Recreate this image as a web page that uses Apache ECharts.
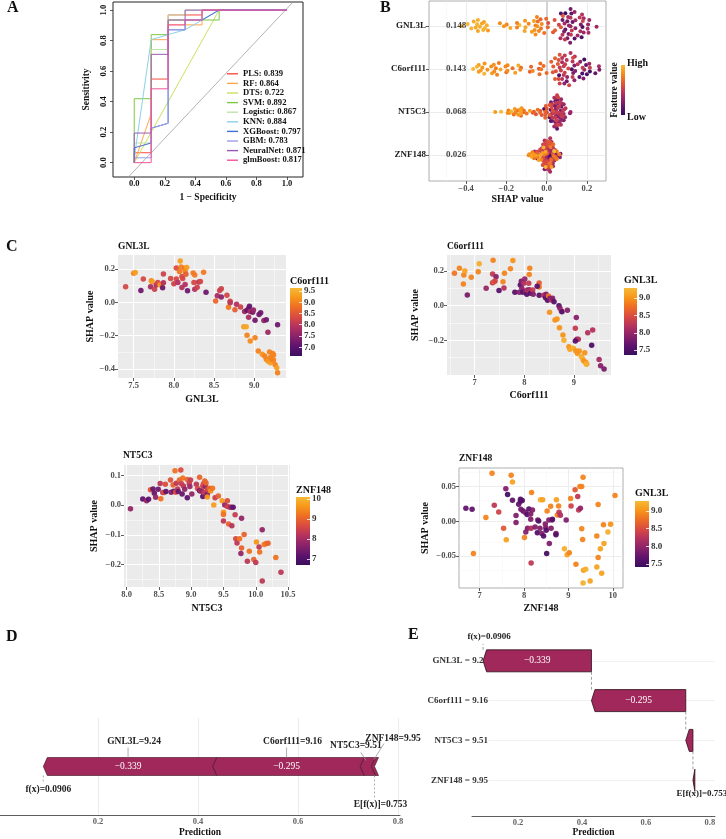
<!DOCTYPE html>
<html>
<head>
<meta charset="utf-8">
<script src="https://cdn.jsdelivr.net/npm/echarts@6/dist/echarts.min.js"></script>
<style>
html, body {margin: 0; padding: 0; background: #fff;}
#main {width: 726px; height: 839px;}
</style>
</head>
<body>
<div id="main"></div>
<script>
// ---- A: ROC curves ----
const rocModels = ['PLS', 'RF', 'DTS', 'SVM', 'Logistic', 'KNN', 'XGBoost', 'GBM', 'NeuralNet', 'glmBoost'];
const rocAuc = [0.839, 0.864, 0.722, 0.892, 0.867, 0.884, 0.797, 0.783, 0.871, 0.817];
const rocCurves = [
    [[0,0],[0,0.065],[0.111,0.065],[0.111,0.548],[0.222,0.548],[0.222,0.968],[0.444,0.968],[0.444,1],[1,1]],
    [[0,0],[0.111,0.32],[0.111,0.806],[0.222,0.806],[0.222,0.903],[0.444,0.903],[0.444,1],[1,1]],
    [[0,0],[0.556,1],[1,1]],
    [[0,0],[0,0.419],[0.111,0.419],[0.111,0.839],[0.222,0.839],[0.222,0.935],[0.556,0.935],[0.556,1],[1,1]],
    [[0,0],[0,0.129],[0.111,0.129],[0.111,0.742],[0.222,0.742],[0.222,0.968],[0.333,0.968],[0.333,1],[1,1]],
    [[0,0],[0.01,0.1],[0.111,0.806],[0.222,0.839],[0.333,0.871],[0.556,1],[1,1]],
    [[0,0],[0,0.097],[0.111,0.129],[0.111,0.226],[0.222,0.258],[0.222,0.871],[0.333,0.871],[0.333,0.935],[0.444,0.935],[0.556,1],[1,1]],
    [[0,0],[0,0.032],[0.111,0.032],[0.111,0.226],[0.222,0.258],[0.222,0.871],[0.333,0.871],[0.333,0.935],[0.444,0.935],[0.444,1],[1,1]],
    [[0,0],[0,0.194],[0.111,0.194],[0.111,0.71],[0.222,0.71],[0.222,0.935],[0.333,0.935],[0.333,1],[1,1]],
    [[0,0],[0.111,0],[0.111,0.484],[0.222,0.484],[0.222,0.903],[0.333,0.903],[0.333,0.935],[0.444,0.935],[0.444,1],[1,1]]
];
const rocColors = ['#FF4B3E', '#FFA64D', '#CFE05C', '#7CC843', '#BDE2A6', '#8BD2E8', '#3E6FD2', '#9C9DE8', '#9A58B4', '#F2529C'];

// ---- B: mean |SHAP| ----
const bFeatures = ['GNL3L', 'C6orf111', 'NT5C3', 'ZNF148'];
const bMeanAbs = [0.148, 0.143, 0.068, 0.026];

// ---- C: dependence plots, [feature value, SHAP value, colour feature value] ----
const gnl3lDep = [[7.40,0.093,8.3],[7.50,0.174,9.0],[7.52,0.178,9.3],[7.59,0.071,7.2],[7.62,0.139,8.3],[7.72,0.129,9.0],[7.73,0.123,9.3],[7.71,0.093,7.8],[7.76,0.079,8.2],[7.78,0.103,7.9],[7.80,0.119,8.3],[7.83,0.103,9.4],[7.85,0.109,9.0],[7.87,0.170,8.2],[7.86,0.087,7.2],[7.87,0.117,7.9],[7.96,0.143,8.3],[8.00,0.111,8.2],[8.03,0.206,8.4],[8.03,0.139,8.3],[8.05,0.119,7.9],[8.07,0.184,8.9],[8.08,0.248,9.3],[8.09,0.212,9.0],[8.10,0.154,8.4],[8.10,0.089,7.9],[8.11,0.143,8.3],[8.13,0.204,8.9],[8.14,0.184,9.0],[8.16,0.208,9.3],[8.15,0.168,8.6],[8.14,0.107,7.9],[8.17,0.069,7.2],[8.24,0.176,8.9],[8.26,0.164,8.9],[8.25,0.119,8.3],[8.26,0.079,7.9],[8.29,0.091,8.2],[8.31,0.121,7.9],[8.33,0.125,8.3],[8.37,0.180,8.9],[8.40,0.061,7.2],[8.52,0.008,8.7],[8.54,0.040,7.8],[8.57,0.071,8.2],[8.59,0.081,8.2],[8.59,0.032,7.5],[8.66,0.042,8.3],[8.68,-0.030,8.9],[8.70,0.006,8.3],[8.70,-0.002,8.0],[8.76,-0.044,8.6],[8.78,-0.012,7.9],[8.83,-0.028,8.2],[8.88,-0.055,7.7],[8.91,-0.048,7.1],[8.93,-0.038,7.2],[8.94,-0.024,7.1],[8.95,-0.055,7.8],[8.98,-0.059,7.3],[8.99,-0.046,7.6],[9.01,-0.107,7.2],[8.93,-0.089,7.8],[9.06,-0.073,7.2],[9.08,-0.063,7.2],[9.12,-0.109,7.6],[9.15,-0.105,7.2],[9.17,-0.180,7.7],[9.29,-0.135,7.2],[8.87,-0.147,9.3],[8.90,-0.147,9.4],[8.91,-0.198,9.0],[8.95,-0.232,9.1],[9.01,-0.212,9.0],[9.05,-0.291,9.0],[9.10,-0.311,9.2],[9.13,-0.321,9.0],[9.15,-0.341,9.0],[9.17,-0.352,9.2],[9.19,-0.297,9.0],[9.20,-0.331,9.0],[9.20,-0.362,9.3],[9.23,-0.307,9.0],[9.24,-0.315,9.0],[9.24,-0.345,9.0],[9.26,-0.374,9.0],[9.28,-0.392,9.3],[9.29,-0.422,9.0],[9.22,-0.341,9.0]];
const c6orf111Dep = [[6.59,0.187,8.8],[6.69,0.215,8.9],[6.77,0.125,8.9],[6.78,0.177,8.9],[6.80,0.200,9.1],[6.85,0.062,7.8],[6.93,0.163,8.9],[7.07,0.196,8.9],[7.09,0.242,9.2],[7.23,0.100,8.0],[7.36,0.183,8.3],[7.37,0.262,8.9],[7.36,0.132,8.3],[7.39,0.138,8.7],[7.43,0.167,7.9],[7.41,0.142,8.4],[7.49,0.088,7.6],[7.57,0.138,8.9],[7.59,0.102,8.2],[7.60,0.187,8.9],[7.72,0.212,8.9],[7.77,0.260,9.0],[7.81,0.077,7.6],[7.90,0.077,7.9],[7.92,0.119,7.6],[7.94,0.140,7.8],[7.95,0.100,7.9],[7.97,0.077,7.6],[7.99,0.129,8.2],[8.01,0.154,8.0],[8.03,0.085,7.9],[8.05,0.065,7.6],[8.06,0.090,8.2],[8.09,0.129,8.3],[8.10,0.179,8.9],[8.11,0.215,8.9],[8.10,0.092,7.9],[8.11,0.085,8.2],[8.13,0.071,7.6],[8.17,0.090,8.3],[8.18,0.065,7.9],[8.30,0.131,8.6],[8.30,0.108,8.8],[8.26,0.112,7.6],[8.30,0.060,7.6],[8.39,0.060,8.2],[8.43,0.046,7.6],[8.44,0.065,7.9],[8.47,0.031,7.6],[8.49,0.056,8.8],[8.52,0.042,7.9],[8.55,0.033,8.2],[8.51,-0.038,9.0],[8.57,0.042,7.9],[8.60,0.023,7.6],[8.62,-0.083,9.0],[8.66,-0.077,9.0],[8.70,0.000,7.6],[8.72,-0.015,7.9],[8.71,-0.127,9.0],[8.75,-0.031,8.2],[8.76,-0.035,7.6],[8.78,-0.169,9.0],[8.80,-0.200,9.2],[8.87,-0.027,7.9],[8.90,-0.237,9.0],[8.92,-0.252,9.1],[8.99,-0.246,9.2],[9.05,-0.069,7.9],[9.03,-0.131,8.3],[9.06,-0.194,8.0],[9.09,-0.194,8.2],[9.03,-0.204,7.6],[9.04,-0.260,9.0],[9.07,-0.275,9.0],[9.11,-0.262,9.0],[9.15,-0.294,9.2],[9.18,-0.308,9.2],[9.20,-0.319,9.0],[9.24,-0.327,9.0],[9.26,-0.337,9.0],[9.25,-0.337,9.2],[9.22,-0.271,9.0],[9.28,-0.156,8.2],[9.38,-0.140,8.2],[9.36,-0.229,7.5],[9.51,-0.310,8.1],[9.54,-0.346,7.9],[9.61,-0.365,7.8]];
const nt5c3Dep = [[8.06,-0.012,7.8],[8.25,0.021,7.2],[8.31,0.015,7.8],[8.34,0.020,7.2],[8.37,0.052,8.8],[8.41,0.055,7.3],[8.43,0.040,7.3],[8.45,0.027,7.8],[8.49,0.054,7.4],[8.52,0.073,8.3],[8.53,0.022,9.2],[8.56,0.043,8.3],[8.58,0.043,8.7],[8.60,0.071,8.7],[8.61,0.046,7.2],[8.68,0.085,8.8],[8.69,0.044,7.6],[8.73,0.047,7.3],[8.72,0.068,9.0],[8.75,0.116,9.2],[8.76,0.044,8.7],[8.77,0.074,8.3],[8.79,0.055,8.3],[8.80,0.046,7.3],[8.82,0.085,9.0],[8.84,0.119,8.7],[8.85,0.072,8.4],[8.86,0.038,7.3],[8.87,0.092,9.2],[8.88,0.065,8.3],[8.90,0.054,7.8],[8.94,0.025,7.2],[8.94,0.087,9.0],[8.97,0.074,8.4],[8.98,0.063,7.9],[8.99,0.085,8.4],[9.01,0.038,7.8],[9.08,0.071,8.3],[9.10,0.056,8.6],[9.13,0.094,9.0],[9.13,0.049,7.3],[9.15,0.048,8.3],[9.16,0.048,7.8],[9.18,0.029,7.2],[9.18,0.065,8.4],[9.19,0.072,8.7],[9.20,0.043,8.3],[9.21,0.082,9.0],[9.22,0.063,7.8],[9.23,0.075,9.0],[9.25,0.038,7.5],[9.25,0.052,8.7],[9.25,0.028,9.6],[9.26,0.053,8.4],[9.28,0.057,9.0],[9.30,0.048,9.5],[9.33,0.057,9.2],[9.35,0.001,9.7],[9.37,0.025,8.4],[9.42,0.031,9.0],[9.48,0.015,9.7],[9.50,-0.024,9.6],[9.50,-0.031,9.2],[9.50,-0.053,8.3],[9.52,0.001,7.8],[9.56,0.015,8.7],[9.56,-0.004,8.4],[9.60,-0.007,8.4],[9.62,-0.007,7.8],[9.65,-0.007,7.2],[9.58,-0.063,9.0],[9.63,-0.069,8.2],[9.68,-0.032,8.4],[9.78,-0.044,7.8],[9.69,-0.113,8.6],[9.71,-0.127,8.3],[9.75,-0.113,9.2],[9.78,-0.144,9.0],[9.77,-0.163,7.8],[9.82,-0.099,9.0],[9.87,-0.189,8.3],[9.90,-0.155,9.2],[9.97,-0.183,9.0],[10.00,-0.193,8.3],[10.01,-0.124,9.6],[10.05,-0.141,8.3],[10.06,-0.158,9.2],[10.10,-0.083,7.8],[10.10,-0.255,8.3],[10.13,-0.132,9.3],[10.16,-0.129,9.2],[10.19,-0.128,9.0],[10.31,-0.176,9.2],[10.39,-0.226,8.3]];
const znf148Dep = [[6.69,0.0188,7.7],[6.83,0.0174,7.7],[6.86,-0.0464,8.9],[7.14,0.0053,8.9],[7.28,0.0691,8.9],[7.33,0.0232,8.3],[7.43,0.0135,8.4],[7.54,-0.0101,8.6],[7.59,0.0469,7.9],[7.60,-0.0266,9.1],[7.63,0.0386,7.5],[7.71,0.0662,8.9],[7.74,0.0565,9.1],[7.74,0.0304,7.7],[7.82,0.0082,7.9],[7.82,-0.0019,7.9],[7.88,0.0246,7.7],[7.92,0.0290,7.6],[7.92,0.0319,7.6],[7.96,0.0300,7.6],[7.98,0.0150,7.6],[7.93,0.0174,7.8],[8.01,-0.0232,8.9],[8.03,0.0126,7.9],[8.04,-0.0155,7.9],[8.07,0.0097,7.6],[8.08,-0.0101,7.9],[8.11,0.0179,7.6],[8.15,0.0029,7.9],[8.15,0.0106,7.9],[8.16,-0.0101,8.2],[8.16,-0.0599,8.3],[8.17,0.0415,8.9],[8.19,0.0164,7.9],[8.25,-0.0082,7.9],[8.30,-0.0164,7.6],[8.31,0.0019,7.9],[8.33,0.0005,7.6],[8.36,-0.0101,7.9],[8.37,0.0309,9.2],[8.42,0.0309,9.1],[8.40,-0.0174,7.9],[8.44,-0.0213,7.6],[8.48,-0.0039,7.9],[8.49,-0.0092,7.9],[8.50,-0.0130,7.6],[8.51,-0.0464,7.5],[8.52,0.0150,8.9],[8.56,0.0019,7.9],[8.57,-0.0319,7.9],[8.60,0.0217,8.9],[8.61,-0.0101,7.9],[8.63,0.0019,7.9],[8.64,0.0029,7.6],[8.72,-0.0174,7.9],[8.72,-0.0193,7.6],[8.73,0.0309,9.1],[8.75,0.0092,8.9],[8.78,0.0222,8.9],[8.79,0.0130,8.3],[8.82,0.0087,8.2],[8.91,-0.0396,9.2],[8.95,0.0019,7.9],[8.97,-0.0483,9.1],[9.02,-0.0454,8.9],[9.05,0.0329,8.9],[9.06,0.0222,8.4],[9.15,0.0454,8.6],[9.17,-0.0618,8.9],[9.21,0.0357,8.3],[9.23,0.0164,8.3],[9.27,0.0188,8.0],[9.26,0.0502,8.9],[9.30,0.0502,8.9],[9.30,-0.0106,8.9],[9.32,-0.0261,8.9],[9.33,0.0633,8.9],[9.34,-0.0705,9.1],[9.39,-0.0691,9.2],[9.33,-0.0889,9.2],[9.49,-0.0860,9.1],[9.64,-0.0213,8.9],[9.64,-0.0657,9.1],[9.67,0.0242,8.9],[9.67,-0.0522,8.9],[9.72,-0.0396,9.1],[9.75,-0.0749,9.1],[9.79,-0.0048,8.9],[9.80,-0.0319,9.1],[9.89,-0.0155,9.2],[9.95,-0.0043,9.0],[10.05,0.0372,8.9]];

// ---- D / E: one sample explained ----
const forceFeatures = ['GNL3L', 'C6orf111', 'NT5C3', 'ZNF148'];
const forceValues = ['9.24', '9.16', '9.51', '9.95'];
const forceShap = [-0.339, -0.295, -0.0224, -0.006];
const baseValue = 0.753;
const fxValue = 0.0906;

const FONT = 'Liberation Serif';
const PAL = ['#3B0F5E', '#5E136E', '#89226A', '#B3315F', '#D84A42', '#EE6C25', '#F7961A', '#F6BA36'];
const BAR = '#A1285A';

const grad = () => new echarts.graphic.LinearGradient(0, 1, 0, 0,
    PAL.map((c, i) => ({offset: i / (PAL.length - 1), color: c})));
const fmt = d => v => (v < -1e-9 ? '\u2212' : '') + Math.abs(v).toFixed(d);

function valAxis(o) {
    return {
        type: 'value', gridIndex: o.g, min: o.min, max: o.max, inverse: !!o.inverse,
        position: o.position, offset: o.offset || 0,
        name: o.name || '', nameLocation: 'middle', nameGap: o.gap || 15,
        nameTextStyle: {fontFamily: FONT, fontWeight: 'bold', fontSize: o.nfs || 10, color: '#111'},
        axisLine: {show: !!o.line, onZero: false, lineStyle: {color: '#333', width: 0.8}},
        axisTick: {show: o.tick !== false, length: 3, inside: !!o.tickInside, customValues: o.ticks,
            lineStyle: {color: o.tickColor || '#333', width: 0.8}},
        axisLabel: {show: o.label !== false, customValues: o.ticks, formatter: o.fmt, rotate: o.rotate || 0,
            margin: o.margin == null ? 3 : o.margin, fontFamily: FONT, fontWeight: 'bold',
            fontSize: o.fs || 8.5, color: o.color || '#4D4D4D'},
        splitLine: {show: false}
    };
}
const hidden = g => ({type: 'value', gridIndex: g, show: false, min: 0, max: 1, axisLine: {onZero: false}});

function gridLines(i, majX, minX, majY, minY, cMaj, cMin, wMaj, wMin) {
    const d = [];
    (minX || []).forEach(v => d.push({xAxis: v, lineStyle: {color: cMin, width: wMin, type: 'solid'}}));
    (minY || []).forEach(v => d.push({yAxis: v, lineStyle: {color: cMin, width: wMin, type: 'solid'}}));
    (majX || []).forEach(v => d.push({xAxis: v, lineStyle: {color: cMaj, width: wMaj, type: 'solid'}}));
    (majY || []).forEach(v => d.push({yAxis: v, lineStyle: {color: cMaj, width: wMaj, type: 'solid'}}));
    return {type: 'line', xAxisIndex: i, yAxisIndex: i, data: [], z: 1, silent: true,
        markLine: {silent: true, z: 1, symbol: ['none', 'none'], label: {show: false}, animation: false, data: d}};
}

// quasirandom (van der Corput) spread scaled by local density, like ggbeeswarm
function vdc(n) { let v = 0, d = 1; while (n > 0) { d *= 2; v += (n % 2) / d; n = Math.floor(n / 2); } return v; }
function quasiOffsets(vals, width) {
    const n = vals.length;
    const mean = vals.reduce((s, v) => s + v, 0) / n;
    const sd = Math.sqrt(vals.reduce((s, v) => s + (v - mean) ** 2, 0) / (n - 1));
    const bw = 0.55 * sd * Math.pow(n, -0.2);
    const dens = vals.map(v => vals.reduce((s, u) => s + Math.exp(-0.5 * ((v - u) / bw) ** 2), 0));
    const maxD = Math.max(...dens);
    const order = vals.map((v, i) => i).sort((p, q) => vals[p] - vals[q]);
    const off = [];
    order.forEach((idx, k) => { off[idx] = (vdc(k + 1) - 0.5) * 2 * width * dens[idx] / maxD; });
    return off;
}

const series = [];
// A
rocModels.forEach((m, i) => series.push({
    type: 'line', name: m + ': ' + rocAuc[i].toFixed(3), xAxisIndex: 0, yAxisIndex: 0,
    data: rocCurves[i], symbol: 'none', lineStyle: {width: 1, color: rocColors[i]},
    itemStyle: {color: rocColors[i]}, z: 3
}));
// chance line as drawn by the ROC plot
series.push({type: 'line', xAxisIndex: 0, yAxisIndex: 0, data: [[-0.2, -0.266], [1.2, 1.223]], symbol: 'none',
    lineStyle: {color: '#A0A0A0', width: 0.8}, clip: true, z: 2, silent: true});

// B
series.push(gridLines(1, [-0.4, -0.2, 0.2], [-0.5, -0.3, -0.1, 0.1], [0, 1, 2, 3], null, '#E6E6E6', '#F3F3F3', 0.8, 0.5));
series.push(gridLines(1, [0], null, null, null, '#CFCFCF', '#CFCFCF', 1.8, 1));
const beeData = [];
[gnl3lDep, c6orf111Dep, nt5c3Dep, znf148Dep].forEach((pts, r) => {
    const xs = pts.map(p => p[0]);
    const lo = Math.min(...xs), hi = Math.max(...xs);
    const off = quasiOffsets(pts.map(p => p[1]), 0.4);
    pts.forEach((p, i) => beeData.push([p[1], r + off[i], (p[0] - lo) / (hi - lo)]));
});
const beeIdx = series.length;
series.push({type: 'scatter', xAxisIndex: 1, yAxisIndex: 1, data: beeData, symbolSize: 4, z: 10,
    itemStyle: {opacity: 1}});
series.push({type: 'scatter', xAxisIndex: 1, yAxisIndex: 1, symbolSize: 0, z: 11,
    data: bMeanAbs.map((v, i) => [-0.5, i, v]),
    label: {show: true, position: 'right', distance: 0, formatter: p => p.value[2].toFixed(3),
        fontFamily: FONT, fontWeight: 'bold', fontSize: 9, color: '#111'}});

// C
const cPanels = [
    {g: 2, pts: gnl3lDep, majX: [7.5, 8, 8.5, 9], minX: [7.75, 8.25, 8.75, 9.25], majY: [-0.4, -0.2, 0, 0.2], minY: [-0.3, -0.1, 0.1], cmin: 6.61, cmax: 9.63, bw: false},
    {g: 3, pts: c6orf111Dep, majX: [7, 8, 9], minX: [6.5, 7.5, 8.5, 9.5], majY: [-0.2, 0, 0.2], minY: [-0.3, -0.1, 0.1], cmin: 7.36, cmax: 9.29, bw: false},
    {g: 4, pts: nt5c3Dep, majX: [8, 8.5, 9, 9.5, 10, 10.5], minX: [8.25, 8.75, 9.25, 9.75, 10.25], majY: [-0.2, -0.1, 0, 0.1], minY: [-0.25, -0.15, -0.05, 0.05], cmin: 6.7, cmax: 10.1, bw: false},
    {g: 5, pts: znf148Dep, majX: [7, 8, 9, 10], minX: [7.5, 8.5, 9.5], majY: [-0.05, 0, 0.05], minY: [-0.075, -0.025, 0.025, 0.075], cmin: 7.41, cmax: 9.28, bw: true}
];
const visualMaps = [{type: 'continuous', show: false, seriesIndex: beeIdx, dimension: 2, min: 0, max: 1, inRange: {color: PAL}}];
cPanels.forEach(c => {
    if (c.bw) series.push(gridLines(c.g, c.majX, c.minX, c.majY, c.minY, '#E8E8E8', '#F4F4F4', 0.8, 0.5));
    else series.push(gridLines(c.g, c.majX, c.minX, c.majY, c.minY, '#FFFFFF', '#FFFFFF', 1, 0.5));
    visualMaps.push({type: 'continuous', show: false, seriesIndex: series.length, dimension: 2,
        min: c.cmin, max: c.cmax, inRange: {color: PAL}});
    series.push({type: 'scatter', xAxisIndex: c.g, yAxisIndex: c.g, data: c.pts, symbolSize: 5.5, z: 10,
        itemStyle: {opacity: 0.95}});
});

// D: force plot
let cur = fxValue;
const segs = forceShap.map((s, i) => { const a = cur; cur = cur - s; return [a, cur, i]; });
const forceLabelPos = [
    {dx: 6, dy: -25, l: [0, -19, 0, -9]},
    {dx: 6, dy: -25, l: [0, -19, 0, -9]},
    {dx: -10, dy: -21, l: [-5, -14, 0, -6]},
    {dx: 20, dy: -28, l: [11, -23, 1, -7]}
];
const lbl = (s) => '\u2212' + Math.abs(s).toFixed(3);
series.push(gridLines(6, [0.2, 0.4, 0.6, 0.8], null, null, null, '#E6E6E6', '#E6E6E6', 0.8, 0.8));
series.push({
    type: 'custom', xAxisIndex: 6, yAxisIndex: 6, data: segs, clip: false, z: 10,
    renderItem: (params, api) => {
        const i = params.dataIndex;
        const a = api.coord([api.value(0), 0.5]), b = api.coord([api.value(1), 0.5]);
        const yc = a[1], h = 9, tip = 4, xs = a[0], xe = b[0], xc = (xs + xe) / 2;
        const p = forceLabelPos[i];
        const ch = [{
            type: 'polygon',
            shape: {points: [[xs, yc], [xs + tip, yc - h], [xe + tip, yc - h], [xe, yc], [xe + tip, yc + h], [xs + tip, yc + h]]},
            style: {fill: BAR, stroke: '#3a1020', lineWidth: 0.6}
        }, {
            type: 'line', shape: {x1: xc + p.l[0], y1: yc + p.l[1], x2: xc + p.l[2], y2: yc + p.l[3]},
            style: {stroke: '#9a9a9a', lineWidth: 0.8}
        }, {
            type: 'text', x: xc + p.dx, y: yc + p.dy,
            style: {text: forceFeatures[i] + '=' + forceValues[i], fill: '#222', font: 'bold 9.5px "Liberation Serif"', align: 'center', verticalAlign: 'middle'}
        }];
        if (xe - xs > 40) ch.push({type: 'text', x: xc, y: yc,
            style: {text: lbl(forceShap[i]), fill: '#fff', font: '9.5px "Liberation Serif"', align: 'center', verticalAlign: 'middle'}});
        return {type: 'group', children: ch};
    }
});
series.push({
    type: 'custom', xAxisIndex: 6, yAxisIndex: 6, data: [[fxValue, baseValue]], clip: false, z: 10,
    renderItem: (params, api) => {
        const f = api.coord([api.value(0), 0.5]), e = api.coord([api.value(1), 0.5]);
        const yc = f[1];
        return {type: 'group', children: [
            {type: 'line', shape: {x1: f[0], y1: yc + 9, x2: f[0], y2: yc + 16}, style: {stroke: '#999', lineWidth: 0.8, lineDash: [2, 2]}},
            {type: 'text', x: f[0] + 5, y: yc + 23, style: {text: 'f(x)=' + fxValue, fill: '#222', font: 'bold 9.5px "Liberation Serif"', align: 'center', verticalAlign: 'middle'}},
            {type: 'line', shape: {x1: e[0], y1: yc + 9, x2: e[0], y2: yc + 31}, style: {stroke: '#999', lineWidth: 0.8, lineDash: [2, 2]}},
            {type: 'text', x: e[0] + 6, y: yc + 38, style: {text: 'E[f(x)]=' + baseValue, fill: '#222', font: 'bold 9.5px "Liberation Serif"', align: 'center', verticalAlign: 'middle'}}
        ]};
    }
});

// E: waterfall, row guide lines start right of the row labels
series.push({type: 'line', xAxisIndex: 7, yAxisIndex: 7, data: [], z: 1, silent: true,
    markLine: {silent: true, z: 1, symbol: ['none', 'none'], label: {show: false}, animation: false,
        lineStyle: {color: '#EEEEEE', width: 0.8, type: 'solid'},
        data: [0, 1, 2, 3].map(r => [{coord: [0.108, r]}, {coord: [0.816, r]}])}});
series.push({
    type: 'custom', xAxisIndex: 7, yAxisIndex: 7, data: segs, clip: false, z: 10,
    renderItem: (params, api) => {
        const r = api.value(2);
        const a = api.coord([api.value(0), r]), b = api.coord([api.value(1), r]);
        const yc = a[1], h = 11, xs = a[0], xe = b[0];
        const tip = Math.min(3.5, Math.max(xe - xs, 1.5));
        const ch = [{
            type: 'polygon',
            shape: {points: [[xs, yc], [xs + tip, yc - h], [xe, yc - h], [xe, yc + h], [xs + tip, yc + h]]},
            style: {fill: BAR, stroke: '#2a0c18', lineWidth: 0.8}
        }];
        if (xe - xs > 40) ch.push({type: 'text', x: (xs + xe) / 2, y: yc,
            style: {text: lbl(forceShap[r]), fill: '#fff', font: '9.5px "Liberation Serif"', align: 'center', verticalAlign: 'middle'}});
        if (r < 3) {
            const nxt = api.coord([api.value(1), r + 1]);
            ch.push({type: 'line', shape: {x1: xe, y1: yc + h, x2: xe, y2: nxt[1] - h},
                style: {stroke: '#888', lineWidth: 0.8, lineDash: [3, 2]}});
        }
        if (r === 0) {
            ch.push({type: 'line', shape: {x1: xs, y1: yc - h, x2: xs, y2: yc - h - 6}, style: {stroke: '#888', lineWidth: 0.8, lineDash: [3, 2]}});
            ch.push({type: 'text', x: xs + 6, y: yc - 24, style: {text: 'f(x)=' + fxValue, fill: '#222', font: 'bold 9px "Liberation Serif"', align: 'center', verticalAlign: 'middle'}});
        }
        if (r === 3) {
            ch.push({type: 'line', shape: {x1: xe, y1: yc + h, x2: xe, y2: yc + h + 4}, style: {stroke: '#888', lineWidth: 0.8, lineDash: [3, 2]}});
            ch.push({type: 'text', x: xe + 7, y: yc + 13, style: {text: 'E[f(x)]=' + baseValue, fill: '#222', font: 'bold 9px "Liberation Serif"', align: 'center', verticalAlign: 'middle'}});
        }
        return {type: 'group', children: ch};
    }
});

const grids = [
    {left: 113, top: 2, width: 190, height: 175, show: true, borderColor: '#222', borderWidth: 1},
    {left: 429, top: 1, width: 177, height: 180, show: true, borderColor: '#9A9A9A', borderWidth: 0.8},
    {left: 118, top: 255, width: 168, height: 123, show: true, backgroundColor: '#EBEBEB', borderWidth: 0},
    {left: 447, top: 255, width: 164, height: 120, show: true, backgroundColor: '#EBEBEB', borderWidth: 0},
    {left: 124, top: 465, width: 166, height: 122, show: true, backgroundColor: '#EBEBEB', borderWidth: 0},
    {left: 459, top: 468, width: 164, height: 120, show: true, backgroundColor: '#fff', borderColor: '#9A9A9A', borderWidth: 0.8},
    {left: 0, top: 718, width: 400, height: 105},
    {left: 472, top: 625, width: 243, height: 191},
    {left: 621, top: 65, width: 4, height: 50, show: true, backgroundColor: grad(), borderWidth: 0},
    {left: 290, top: 288, width: 12, height: 68, show: true, backgroundColor: grad(), borderWidth: 0},
    {left: 624, top: 288, width: 13, height: 67, show: true, backgroundColor: grad(), borderWidth: 0},
    {left: 296, top: 497, width: 14, height: 68, show: true, backgroundColor: grad(), borderWidth: 0},
    {left: 635, top: 501, width: 14, height: 66, show: true, backgroundColor: grad(), borderWidth: 0}
];

const xAxes = [
    valAxis({g: 0, min: -0.139, max: 1.105, ticks: [0, 0.2, 0.4, 0.6, 0.8, 1], fmt: fmt(1), name: '1 \u2212 Specificity', gap: 16, margin: 2, color: '#111', nfs: 9.5}),
    valAxis({g: 1, min: -0.584, max: 0.295, ticks: [-0.4, -0.2, 0, 0.2], fmt: fmt(1), name: 'SHAP value', gap: 13}),
    valAxis({g: 2, min: 7.305, max: 9.395, ticks: [7.5, 8, 8.5, 9], fmt: fmt(1), name: 'GNL3L', gap: 16}),
    valAxis({g: 3, min: 6.44, max: 9.75, ticks: [7, 8, 9], fmt: fmt(0), name: 'C6orf111', gap: 15}),
    valAxis({g: 4, min: 7.96, max: 10.53, ticks: [8, 8.5, 9, 9.5, 10, 10.5], fmt: fmt(1), name: 'NT5C3', gap: 16}),
    valAxis({g: 5, min: 6.535, max: 10.23, ticks: [7, 8, 9, 10], fmt: fmt(0), name: 'ZNF148', gap: 15}),
    valAxis({g: 6, min: 0.004, max: 0.804, ticks: [0.2, 0.4, 0.6, 0.8], fmt: fmt(1), name: 'Prediction', gap: 13, line: true, tick: false, margin: 2, color: '#666', nfs: 9.5}),
    valAxis({g: 7, min: 0.056, max: 0.816, ticks: [0.2, 0.4, 0.6, 0.8], fmt: fmt(1), name: 'Prediction', gap: 11, line: true, tick: false, margin: 2, color: '#666', nfs: 9.5}),
    hidden(8), hidden(9), hidden(10), hidden(11), hidden(12)
];
const yAxes = [
    valAxis({g: 0, min: -0.094, max: 1.053, ticks: [0, 0.2, 0.4, 0.6, 0.8, 1], fmt: fmt(1), rotate: 90, name: 'Sensitivity', gap: 21, margin: 5, color: '#111', nfs: 9.5}),
    valAxis({g: 1, min: -0.58, max: 3.6, inverse: true, ticks: [0, 1, 2, 3], fmt: v => bFeatures[Math.round(v)], fs: 9, color: '#222', margin: 3}),
    valAxis({g: 2, min: -0.4535, max: 0.2835, ticks: [-0.4, -0.2, 0, 0.2], fmt: fmt(1), name: 'SHAP value', gap: 23}),
    valAxis({g: 3, min: -0.4, max: 0.292, ticks: [-0.2, 0, 0.2], fmt: fmt(1), name: 'SHAP value', gap: 27}),
    valAxis({g: 4, min: -0.2755, max: 0.1355, ticks: [-0.2, -0.1, 0, 0.1], fmt: fmt(1), name: 'SHAP value', gap: 25}),
    valAxis({g: 5, min: -0.0961, max: 0.0768, ticks: [-0.05, 0, 0.05], fmt: fmt(2), name: 'SHAP value', gap: 29}),
    hidden(6),
    valAxis({g: 7, min: -0.9, max: 3.9, inverse: true, ticks: [0, 1, 2, 3], tick: false, offset: -16, margin: 0,
        fmt: v => forceFeatures[Math.round(v)] + ' = ' + forceValues[Math.round(v)], fs: 9, color: '#333'}),
    hidden(8),
    valAxis({g: 9, min: 6.61, max: 9.63, position: 'right', ticks: [7, 7.5, 8, 8.5, 9, 9.5], fmt: fmt(1), tickInside: true, tickColor: '#fff', margin: 2, fs: 9, color: '#333'}),
    valAxis({g: 10, min: 7.36, max: 9.29, position: 'right', ticks: [7.5, 8, 8.5, 9], fmt: fmt(1), tickInside: true, tickColor: '#fff', margin: 2, fs: 9, color: '#333'}),
    valAxis({g: 11, min: 6.7, max: 10.1, position: 'right', ticks: [7, 8, 9, 10], fmt: fmt(0), tickInside: true, tickColor: '#fff', margin: 2, fs: 9, color: '#333'}),
    valAxis({g: 12, min: 7.41, max: 9.28, position: 'right', ticks: [7.5, 8, 8.5, 9], fmt: fmt(1), tickInside: true, tickColor: '#fff', margin: 2, fs: 9, color: '#333'})
];

const T = (text, x, y, size, extra) => Object.assign({type: 'text', x: x, y: y, z: 20,
    style: {text: text, font: 'bold ' + size + 'px "Liberation Serif"', fill: '#111', align: 'left', verticalAlign: 'middle'}}, extra || {});
const texts = [
    T('A', 7, 8, 16), T('B', 380, 8, 16), T('C', 6, 247, 16), T('D', 6, 637, 16), T('E', 408, 635, 16),
    T('GNL3L', 118, 247, 9.5), T('C6orf111', 447, 247, 9.5), T('NT5C3', 123, 456, 9.5), T('ZNF148', 459, 459, 9.5),
    T('C6orf111', 290, 281, 10), T('GNL3L', 624, 280, 10), T('ZNF148', 296, 490, 10), T('GNL3L', 635, 493, 10),
    T('High', 627, 63, 10), T('Low', 627, 117, 10)
];
const fv = T('Feature value', 615, 90, 9.5);
fv.rotation = Math.PI / 2;
fv.style.align = 'center';
texts.push(fv);

const chart = echarts.init(document.getElementById('main'), null, {renderer: 'canvas'});
chart.setOption({
    animation: false,
    backgroundColor: '#fff',
    textStyle: {fontFamily: FONT},
    legend: {
        data: rocModels.map((m, i) => m + ': ' + rocAuc[i].toFixed(3)),
        left: 227, top: 69, orient: 'vertical', icon: 'rect', itemWidth: 11, itemHeight: 1.4, itemGap: 0, padding: 0,
        selectedMode: false,
        textStyle: {fontFamily: FONT, fontWeight: 'bold', fontSize: 8.6, lineHeight: 9.6, color: '#111'}
    },
    grid: grids,
    xAxis: xAxes,
    yAxis: yAxes,
    visualMap: visualMaps,
    graphic: texts,
    series: series
});
</script>
</body>
</html>
